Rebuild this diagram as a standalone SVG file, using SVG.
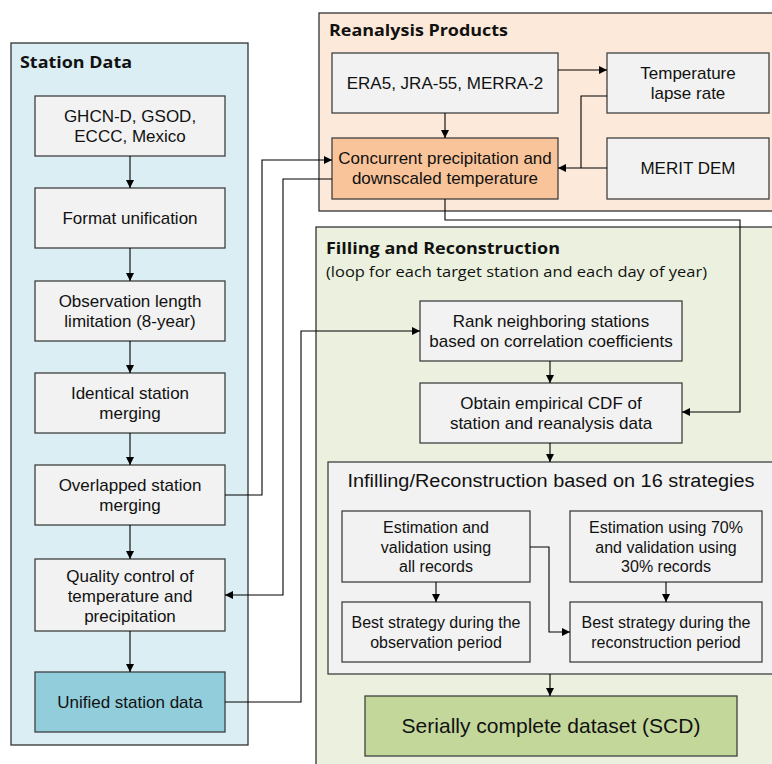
<svg xmlns="http://www.w3.org/2000/svg" width="772" height="764" viewBox="0 0 772 764">
<defs>
<marker id="ah" viewBox="0 0 10 10" refX="10" refY="5" markerWidth="8" markerHeight="8" markerUnits="userSpaceOnUse" orient="auto">
<path d="M0,0 L10,5 L0,10 z" fill="#000"/>
</marker>
<style>
.panel{stroke:#333;stroke-width:1.3}
.box{fill:#F2F2F2;stroke:#404040;stroke-width:1.3}
.t{font-family:"Liberation Sans",Arial,sans-serif;font-size:17px;fill:#111;text-anchor:middle}
.s{font-family:"Liberation Sans",Arial,sans-serif;font-size:16px;fill:#111;text-anchor:middle}
.h{font-family:"Open Sans","Noto Sans",sans-serif;font-weight:bold;font-size:15.5px;fill:#111}
.sub{font-family:"Open Sans","Noto Sans",sans-serif;font-size:14px;fill:#111}
.c{fill:none;stroke:#000;stroke-width:1.1;marker-end:url(#ah)}
.cn{fill:none;stroke:#000;stroke-width:1.1}
</style>
</defs>
<rect width="772" height="764" fill="#fff"/>

<g id="panel-station">
<rect class="panel" x="11" y="43" width="237" height="702" fill="#DAEEF3"/>
<text class="h" x="20" y="68" textLength="112" lengthAdjust="spacingAndGlyphs">Station Data</text>
</g>
<g id="panel-reanalysis">
<rect class="panel" x="319" y="13" width="470" height="198" fill="#FDE9D9"/>
<text class="h" x="329" y="36" textLength="179" lengthAdjust="spacingAndGlyphs">Reanalysis Products</text>
</g>
<g id="panel-filling">
<rect class="panel" x="316" y="227" width="470" height="560" fill="#EBF1DE"/>
<text class="h" x="326" y="254" textLength="234" lengthAdjust="spacingAndGlyphs">Filling and Reconstruction</text>
<text class="sub" x="326" y="277" textLength="381" lengthAdjust="spacingAndGlyphs">(loop for each target station and each day of year)</text>
</g>

<g id="n-ghcn"><rect class="box" x="35" y="96" width="190" height="60"/>
<text class="t" x="130" y="122">GHCN-D, GSOD,</text><text class="t" x="130" y="142">ECCC, Mexico</text></g>
<g id="n-format"><rect class="box" x="35" y="188" width="190" height="60"/>
<text class="t" x="130" y="224">Format unification</text></g>
<g id="n-length"><rect class="box" x="35" y="281" width="190" height="60"/>
<text class="t" x="130" y="307">Observation length</text><text class="t" x="130" y="327">limitation (8-year)</text></g>
<g id="n-identical"><rect class="box" x="35" y="373" width="190" height="60"/>
<text class="t" x="130" y="399">Identical station</text><text class="t" x="130" y="419">merging</text></g>
<g id="n-overlapped"><rect class="box" x="35" y="465" width="190" height="60"/>
<text class="t" x="130" y="491">Overlapped station</text><text class="t" x="130" y="511">merging</text></g>
<g id="n-qc"><rect class="box" x="35" y="559" width="190" height="72"/>
<text class="t" x="130" y="582">Quality control of</text><text class="t" x="130" y="602">temperature and</text><text class="t" x="130" y="622">precipitation</text></g>
<g id="n-unified"><rect class="box" x="35" y="672" width="190" height="60" style="fill:#92CDDC"/>
<text class="t" x="130" y="708">Unified station data</text></g>

<g id="n-era"><rect class="box" x="332" y="53" width="226" height="60"/>
<text class="t" x="445" y="89">ERA5, JRA-55, MERRA-2</text></g>
<g id="n-lapse"><rect class="box" x="607" y="53" width="162" height="60"/>
<text class="t" x="688" y="79">Temperature</text><text class="t" x="688" y="99">lapse rate</text></g>
<g id="n-concurrent"><rect class="box" x="332" y="138" width="226" height="61" style="fill:#F9C49A"/>
<text class="t" x="445" y="164">Concurrent precipitation and</text><text class="t" x="445" y="184">downscaled temperature</text></g>
<g id="n-merit"><rect class="box" x="607" y="138" width="162" height="61"/>
<text class="t" x="688" y="174">MERIT DEM</text></g>

<g id="n-rank"><rect class="box" x="420" y="301" width="262" height="60"/>
<text class="t" x="551" y="327">Rank neighboring stations</text><text class="t" x="551" y="347">based on correlation coefficients</text></g>
<g id="n-cdf"><rect class="box" x="420" y="383" width="262" height="60"/>
<text class="t" x="551" y="409">Obtain empirical CDF of</text><text class="t" x="551" y="429">station and reanalysis data</text></g>

<g id="n-infilling"><rect class="box" x="328" y="462" width="460" height="212"/>
<text class="t" x="551" y="487" style="font-size:18px" textLength="407" lengthAdjust="spacingAndGlyphs">Infilling/Reconstruction based on 16 strategies</text></g>
<g id="n-est-all"><rect class="box" x="342" y="511" width="188" height="71"/>
<text class="s" x="436" y="533">Estimation and</text><text class="s" x="436" y="553">validation using</text><text class="s" x="436" y="572">all records</text></g>
<g id="n-est-70"><rect class="box" x="570" y="511" width="192" height="71"/>
<text class="s" x="666" y="533">Estimation using 70%</text><text class="s" x="666" y="553">and validation using</text><text class="s" x="666" y="572">30% records</text></g>
<g id="n-best-obs"><rect class="box" x="342" y="602" width="188" height="60"/>
<text class="s" x="436" y="628">Best strategy during the</text><text class="s" x="436" y="648">observation period</text></g>
<g id="n-best-rec"><rect class="box" x="570" y="602" width="192" height="60"/>
<text class="s" x="666" y="628">Best strategy during the</text><text class="s" x="666" y="648">reconstruction period</text></g>
<g id="n-scd"><rect class="box" x="365" y="696" width="372" height="60" style="fill:#C4D79B"/>
<text class="t" x="551" y="733" style="font-size:21px">Serially complete dataset (SCD)</text></g>

<g id="connectors">
<path class="c" d="M130,156 V188"/>
<path class="c" d="M130,248 V281"/>
<path class="c" d="M130,341 V373"/>
<path class="c" d="M130,433 V465"/>
<path class="c" d="M130,525 V559"/>
<path class="c" d="M130,631 V672"/>
<path class="c" d="M225,495 H262 V160 H332"/>
<path class="c" d="M332,179 H283 V595 H225"/>
<path class="c" d="M225,702 H301 V331 H420"/>
<path class="c" d="M558,70 H607"/>
<path class="c" d="M445,113 V138"/>
<path class="cn" d="M607,96 H581 V168"/>
<path class="c" d="M607,168 H558"/>
<path class="c" d="M445,199 V220 H740 V412 H682"/>
<path class="c" d="M550,361 V383"/>
<path class="c" d="M550,443 V462"/>
<path class="c" d="M436,582 V602"/>
<path class="c" d="M666,582 V602"/>
<path class="c" d="M530,547 H549 V632 H570"/>
<path class="c" d="M550,674 V696"/>
</g>
</svg>
